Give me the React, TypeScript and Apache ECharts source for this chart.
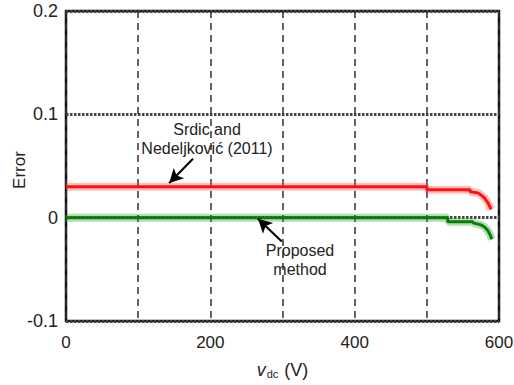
import React, { useEffect, useRef } from "react";
import * as echarts from "echarts";

// Data
const redSeries: [number, number][] = [
  [0, 0.03], [500, 0.03], [500, 0.027], [560, 0.027], [560, 0.025],
  [571, 0.024], [575, 0.022], [580, 0.019], [585, 0.014], [589, 0.008],
];
const greenSeries: [number, number][] = [
  [0, 0], [529, 0], [529, -0.004], [564, -0.004], [564, -0.005],
  [575, -0.007], [580, -0.009], [585, -0.013], [588, -0.017], [590, -0.021],
];
const xTicks = [0, 200, 400, 600];
const yTicks = [-0.1, 0, 0.1, 0.2];
const yTitle = "Error";
const annotationRed = "Srdic and\nNedeljković (2011)";
const annotationGreen = "Proposed\nmethod";
const arrowRed: [number, number][] = [[176, 0.057], [143, 0.0335]];
const arrowGreen: [number, number][] = [[299, -0.023], [266, -0.001]];

const FONT = "Liberation Sans, Arial, sans-serif";

export default function App() {
  const ref = useRef<HTMLDivElement>(null);
  useEffect(() => {
    if (!ref.current) return;
    const chart = echarts.init(ref.current, undefined, { renderer: "svg" });
    chart.setOption({
      animation: false,
      backgroundColor: "#fff",
      grid: {
        left: 66, right: 15, top: 11, bottom: 64,
        outerBoundsMode: "none", containLabel: false,
        show: true, borderColor: "#111", borderWidth: 2.5, backgroundColor: "transparent",
      },
      xAxis: {
        type: "value", min: 0, max: 600, interval: 100,
        axisLine: { show: false }, axisTick: { show: false },
        axisLabel: {
          margin: 13, fontSize: 17, color: "#222", fontFamily: FONT,
          formatter: (v: number) => (xTicks.includes(v) ? String(v) : ""),
        },
        splitLine: { show: true, lineStyle: { color: "#333", width: 1.5, type: [7, 5] } },
        name: "{i|v}{s|dc} (V)",
        nameLocation: "middle", nameGap: 40,
        nameTextStyle: {
          fontSize: 18, color: "#222", fontFamily: FONT,
          rich: {
            i: { fontSize: 18, fontStyle: "italic", color: "#222", fontFamily: FONT },
            s: { fontSize: 11, color: "#222", fontFamily: FONT, padding: [7, 1, 0, 1] },
          },
        },
      },
      yAxis: {
        type: "value", min: -0.1, max: 0.2, interval: 0.1,
        axisLine: { show: false }, axisTick: { show: false },
        axisLabel: {
          margin: 8, fontSize: 18, color: "#222", fontFamily: FONT,
          formatter: (v: number) => {
            const r = Math.round(v * 10) / 10;
            return yTicks.some((t) => Math.abs(t - r) < 1e-9) ? String(r) : "";
          },
        },
        splitLine: { show: true, lineStyle: { color: "#444", width: 3, type: [2.5, 1.5] } },
      },
      series: [
        {
          type: "line", data: redSeries, symbol: "none", silent: true,
          lineStyle: { color: "rgba(255,70,70,0.35)", width: 8 }, z: 2,
        },
        {
          type: "line", data: redSeries, symbol: "none", silent: true,
          lineStyle: { color: "#ff1010", width: 3 }, z: 3,
        },
        {
          type: "line", data: greenSeries, symbol: "none", silent: true,
          lineStyle: { color: "rgba(40,160,40,0.35)", width: 8 }, z: 2,
        },
        {
          type: "line", data: greenSeries, symbol: "none", silent: true,
          lineStyle: { color: "#0a7a0a", width: 3 }, z: 3,
          markLine: {
            silent: true, symbol: ["none", "arrow"], symbolSize: [11, 14],
            lineStyle: { color: "#000", width: 2, type: "solid" },
            label: { show: false },
            data: [
              [{ coord: arrowRed[0] }, { coord: arrowRed[1] }],
              [{ coord: arrowGreen[0] }, { coord: arrowGreen[1] }],
            ],
          },
        },
      ],
      graphic: [
        {
          type: "text", x: 19, y: 170, rotation: Math.PI / 2, z: 10,
          style: {
            text: yTitle, textAlign: "center", textVerticalAlign: "middle",
            fontSize: 17, fontFamily: FONT, fill: "#222",
          },
        },
        {
          type: "text", x: 207, y: 119.5, z: 10,
          style: {
            text: annotationRed, textAlign: "center", textVerticalAlign: "top",
            fontSize: 16, lineHeight: 19, fontFamily: FONT, fill: "#222",
          },
        },
        {
          type: "text", x: 300, y: 240.5, z: 10,
          style: {
            text: annotationGreen, textAlign: "center", textVerticalAlign: "top",
            fontSize: 16, lineHeight: 19, fontFamily: FONT, fill: "#222",
          },
        },
      ],
    });
    return () => chart.dispose();
  }, []);
  return <div ref={ref} style={{ width: 514, height: 385, position: "absolute", left: 0, top: 0 }} />;
}
